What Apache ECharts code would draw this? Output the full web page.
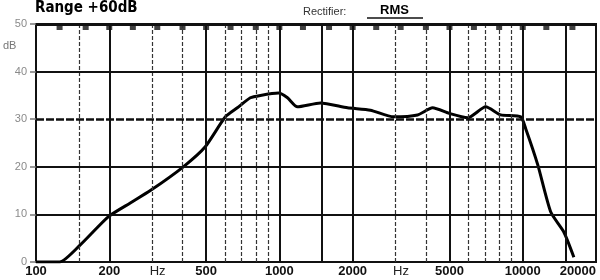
<!DOCTYPE html>
<html>
<head>
<meta charset="utf-8">
<script src="https://cdn.jsdelivr.net/npm/echarts@6/dist/echarts.min.js"></script>
<style>html,body{margin:0;padding:0;background:#fff;}#c{width:600px;height:280px;}</style>
</head>
<body>
<div id="c"></div>
<script>
// ---- data ----
const freqHz = [100, 125, 152, 198, 244, 295, 403, 496, 600, 672, 760, 836, 991, 1080, 1186, 1475, 1905, 2366, 2945, 3697, 4262, 5000, 5943, 7044, 8118, 9814, 10285, 11530, 13035, 14750, 16220];
const levelDb = [0, 0, 3.6, 9.5, 12.4, 15, 20, 24.2, 30.5, 32.4, 34.5, 35, 35.5, 34.5, 32.6, 33.4, 32.4, 31.9, 30.5, 30.9, 32.4, 31.2, 30.3, 32.6, 30.9, 30.5, 28, 20.4, 10.5, 6.3, 1];
const xTickFreqs = [100, 200, 500, 1000, 2000, 5000, 10000, 20000];
const xTickLabels = ['100', '200', '500', '1000', '2000', '5000', '10000', '20000'];
const hzLabelFreqs = [316, 3160];
const majorGridFreqs = [200, 500, 1000, 1500, 2000, 5000, 10000, 15000];
const minorGridFreqs = [150, 300, 400, 600, 700, 800, 900, 3000, 4000, 6000, 7000, 8000, 9000];
const notchFreqs = [125, 160, 200, 250, 315, 400, 500, 630, 800, 1000, 1250, 1600, 2000, 2500, 3150, 4000, 5000, 6300, 8000, 10000, 12500, 16000];
const solidDbLines = [10, 20, 40];
const refDbLine = 30;

const chart = echarts.init(document.getElementById('c'), null, {renderer: 'canvas'});

const lblStyle = {color: '#111', fontFamily: 'Liberation Sans', fontWeight: 'bold', fontSize: 13};
const gridLines = [];
majorGridFreqs.forEach(f => gridLines.push({xAxis: f, lineStyle: {color: '#111', width: 2, type: 'solid'}, label: {show: false}}));
minorGridFreqs.forEach(f => gridLines.push({xAxis: f, lineStyle: {color: '#333', width: 1.2, type: [4, 2]}, label: {show: false}}));
solidDbLines.forEach(v => gridLines.push({yAxis: v, lineStyle: {color: '#111', width: 2, type: 'solid'}, label: {show: false}}));
gridLines.push({yAxis: refDbLine, lineStyle: {color: '#111', width: 2.6, type: [8, 2]}, label: {show: false}});
gridLines.push({yAxis: 50, lineStyle: {color: '#111', width: 3, type: 'solid'}, label: {show: false}});

const labelLines = [];
xTickFreqs.forEach((f, i) => labelLines.push({
  xAxis: f, lineStyle: {color: 'rgba(0,0,0,0)', width: 0},
  label: Object.assign({show: true, position: 'start', distance: 3, formatter: xTickLabels[i],
    align: i === xTickFreqs.length - 1 ? 'right' : 'center'}, lblStyle)
}));
hzLabelFreqs.forEach(f => labelLines.push({
  xAxis: f, lineStyle: {color: 'rgba(0,0,0,0)', width: 0},
  label: Object.assign({show: true, position: 'start', distance: 3, formatter: 'Hz'}, lblStyle, {fontWeight: 'normal', color: '#222'})
}));

chart.setOption({
  animation: false,
  backgroundColor: '#fff',
  grid: {left: 36, right: 4, top: 24, bottom: 18, show: true, borderColor: '#111', borderWidth: 2, backgroundColor: 'transparent'},
  xAxis: {type: 'log', logBase: 10, min: 100, max: 20000,
    axisLine: {show: false}, axisTick: {show: false}, axisLabel: {show: false}, splitLine: {show: false}},
  yAxis: {type: 'value', min: 0, max: 50, interval: 10,
    axisLine: {show: false},
    axisTick: {show: true, length: 6, lineStyle: {color: '#777', width: 1.5}},
    axisLabel: {color: '#8a8a8a', fontSize: 11, margin: 9, fontFamily: 'Liberation Sans'},
    splitLine: {show: false}},
  graphic: [
    {type: 'text', left: 35, top: 1, style: {text: 'Range +60dB', fill: '#000', font: 'bold 15px "DejaVu Sans Condensed"'}},
    {type: 'text', left: 303, top: 6, style: {text: 'Rectifier:', fill: '#333', font: '11px "Liberation Sans"'}},
    {type: 'text', left: 380, top: 4, style: {text: 'RMS', fill: '#000', font: 'bold 13px "Liberation Sans"'}},
    {type: 'line', shape: {x1: 367, y1: 18, x2: 423, y2: 18}, style: {stroke: '#111', lineWidth: 1.5}},
    {type: 'text', left: 3, top: 40, style: {text: 'dB', fill: '#777', font: '11px "Liberation Sans"'}}
  ],
  series: [
    {type: 'line', data: [], z: 1, silent: true,
      markLine: {silent: true, symbol: ['none', 'none'], animation: false, data: gridLines}},
    {type: 'line', data: [], z: 1, silent: true,
      markLine: {silent: true, symbol: ['none', 'none'], animation: false, data: labelLines}},
    {type: 'scatter', z: 3, silent: true, symbol: 'rect', symbolSize: [6, 6], symbolOffset: [0, 3],
      itemStyle: {color: '#111'}, data: notchFreqs.map(f => [f, 50]), clip: false},
    {type: 'line', z: 4, smooth: 0.2, symbol: 'none', clip: true,
      lineStyle: {color: '#000', width: 3, join: 'round'},
      data: freqHz.map((f, i) => [f, levelDb[i]])}
  ]
});
</script>
</body>
</html>
